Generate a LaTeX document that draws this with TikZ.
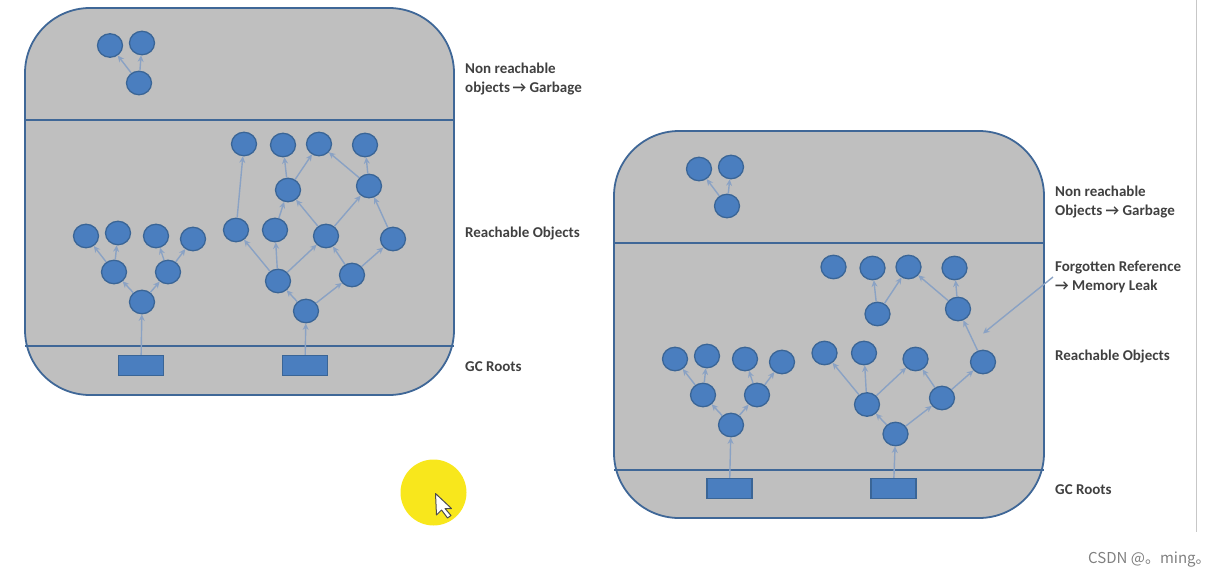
\documentclass[tikz,border=0pt]{standalone}
\usepackage{fontspec}
\setmainfont{Carlito}
\newfontfamily\markfont{Noto Sans CJK SC}
\usetikzlibrary{shapes.geometric,arrows.meta}
\definecolor{panelgray}{HTML}{BFBFBF}
\definecolor{panelline}{HTML}{3F6797}
\definecolor{objfill}{HTML}{4A7EBF}
\definecolor{objline}{HTML}{3A6596}
\definecolor{linkblue}{HTML}{8AA2C4}
\definecolor{spotyellow}{HTML}{F8E71C}
\tikzset{
  panel/.style={draw=panelline, fill=panelgray, line width=1.8pt, rounded corners=65pt},
  divider/.style={draw=panelline, line width=1.8pt},
  obj/.style={ellipse, draw=objline, fill=objfill, line width=1.3pt, minimum width=25pt, minimum height=23.5pt, inner sep=0pt},
  root/.style={rectangle, draw=objline, fill=objfill, line width=1.2pt, minimum width=45pt, minimum height=20pt, inner sep=0pt},
  link/.style={draw=linkblue, line width=1.4pt, -{Stealth[length=6.5pt,width=6pt]}},
  tag/.style={anchor=west, align=left, inner sep=0pt, text=black!75, font=\bfseries\fontsize{15pt}{19pt}\selectfont},
}
\begin{document}
\begin{tikzpicture}[x=1pt,y=-1pt]
\useasboundingbox (0,0) rectangle (1218,578);

% left panel
\draw[panel] (25,8) rectangle (454,395);
\draw[divider] (25,120) -- (454,120);
\draw[divider] (25,346) -- (454,346);

\foreach \nm/\px/\py in {a1/110/45.5, a2/142/43, a3/139/83,
    b1/86/236, b2/118/233, b3/156/236, b4/193/239, b5/114/272, b6/168/272, b7/142/302,
    c1/244/144, c2/283/145, c3/319/144, c4/365/145, c5/288/190, c6/369/186,
    c7/236/230, c8/275/230, c9/326/236, c10/393/239, c11/278/281, c12/352/275, c13/306/311}
  \node[obj] (\nm) at (\px,\py) {};
\node[root] (r1) at (141,365.5) {};
\node[root] (r2) at (305,365.5) {};

\foreach \from/\to in {a3/a1, a3/a2, r1/b7, b7/b5, b7/b6, b5/b1, b5/b2, b6/b3, b6/b4,
    r2/c13, c13/c11, c13/c12, c11/c7, c11/c8, c11/c9, c12/c9, c12/c10,
    c7/c1, c8/c5, c9/c5, c9/c6, c10/c6, c5/c2, c5/c3, c6/c3, c6/c4}
  \draw[link] (\from) -- (\to);

\node[tag] (t1) at (465,79) {Non reachable\\objects\,→ Garbage};
\node[tag] (t2) at (465,234) {Reachable Objects};
\node[tag] (t3) at (465,366.5) {GC Roots};

% right panel
\draw[panel] (614,131) rectangle (1044,518);
\draw[divider] (614,243) -- (1044,243);
\draw[divider] (614,470) -- (1044,470);

\foreach \nm/\px/\py in {d1/699/169, d2/731/167, d3/727/206,
    e1/675/359, e2/707/356, e3/745/359, e4/782/362, e5/703/395, e6/757/395, e7/731/425,
    f1/833.5/267, f2/872.5/268, f3/908.5/267, f4/954.5/268, f5/877.5/314, f6/958/309,
    f7/824.5/353, f8/864/353, f9/915.5/359, f10/983/362, f11/867/404.5, f12/942/398, f13/895.5/434}
  \node[obj] (\nm) at (\px,\py) {};
\node[root] (r3) at (729.5,488.5) {};
\node[root] (r4) at (893.5,488.5) {};

\foreach \from/\to in {d3/d1, d3/d2, r3/e7, e7/e5, e7/e6, e5/e1, e5/e2, e6/e3, e6/e4,
    r4/f13, f13/f11, f13/f12, f11/f7, f11/f8, f11/f9, f12/f9, f12/f10,
    f10/f6, f5/f2, f5/f3, f6/f3, f6/f4}
  \draw[link] (\from) -- (\to);

\node[tag] (t4) at (1055,202) {Non reachable\\Objects → Garbage};
\node[tag] (t5) at (1055,276.5) {Forgotten Reference\\→ Memory Leak};
\node[tag] (t6) at (1055,357) {Reachable Objects};
\node[tag] (t7) at (1055,489.5) {GC Roots};

\coordinate (leakfrom) at (1053,277);
\coordinate (leakto) at (983,333.5);
\draw[link] (leakfrom) -- (leakto);

% mouse pointer
\node[circle, fill=spotyellow, minimum size=66pt, inner sep=0pt] (spot) at (433.5,492.5) {};
\draw[fill=white, draw=black!70, line width=1pt, line join=round]
  (435.5,493.5) -- (436.5,515) -- (441.5,510) -- (447.5,518) -- (451,515.5) -- (445,508.5) -- (451.5,508.5) -- cycle;

% frame line and mark
\draw[black!22, line width=1pt] (1196,0) -- (1196,532);
\node[anchor=west, inner sep=0pt, text=black!50, font=\markfont\fontsize{15pt}{15pt}\selectfont] (mark) at (1088,560) {CSDN @。ming。};
\end{tikzpicture}
\end{document}
